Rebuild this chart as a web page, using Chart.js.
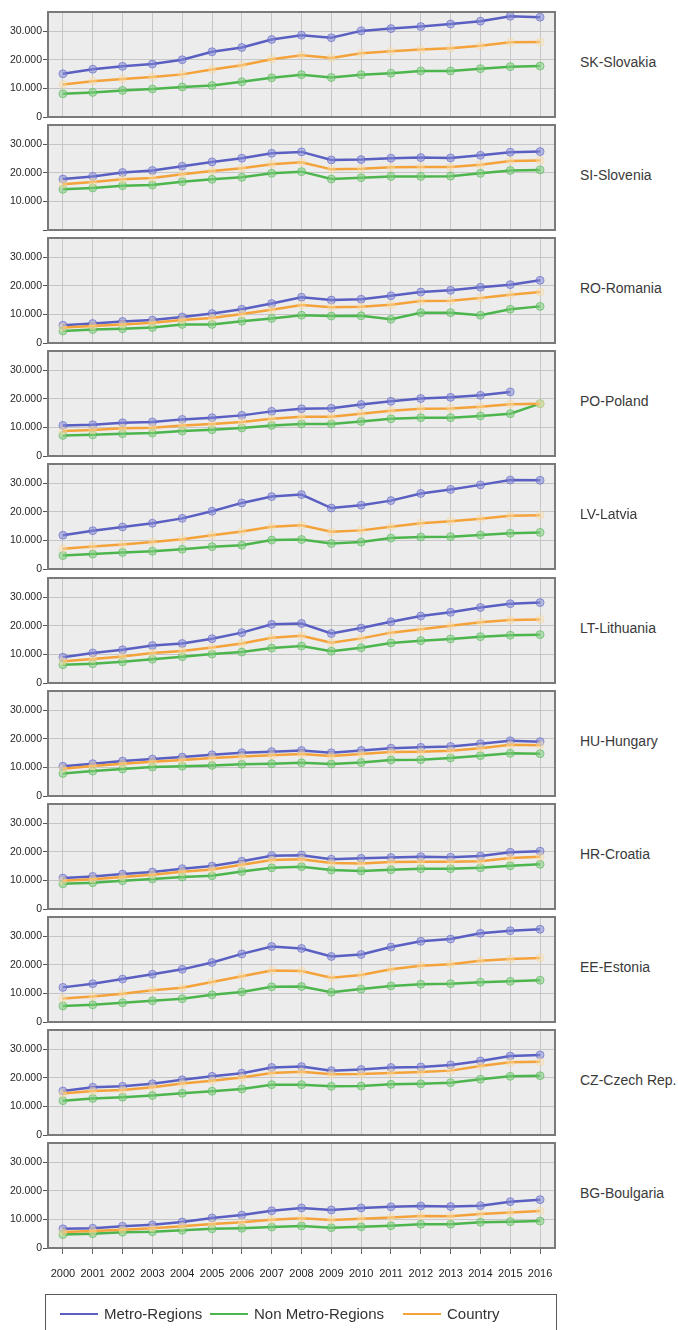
<!DOCTYPE html>
<html>
<head>
<meta charset="utf-8">
<script src="https://cdn.jsdelivr.net/npm/chart.js@4.4.1/dist/chart.umd.min.js"></script>
<style>
  html, body { margin: 0; padding: 0; background: #fff; }
  body { width: 678px; height: 1330px; position: relative; overflow: hidden;
         font-family: "Liberation Sans", Arial, sans-serif; }
  .panel { position: absolute; left: 0; }
  .region { position: absolute; left: 580px; font-size: 14px; color: #3a3a3a; white-space: nowrap; }
  .legend { position: absolute; left: 45px; top: 1294px; width: 512px; height: 60px;
            border: 1.5px solid #5a5a5a; box-sizing: border-box; }
  .item { position: absolute; top: 10px; font-size: 15px; color: #333; white-space: nowrap; }
  .swatch { display: inline-block; width: 38px; height: 0; border-top: 2.5px solid; vertical-align: middle; margin-right: 6px; position: relative; top: -1px; }
</style>
</head>
<body>
<div id="root"></div>
<div class="legend">
  <div class="item" style="left:14px"><span class="swatch" style="border-color:#5a5fc2"></span>Metro-Regions</div>
  <div class="item" style="left:164px"><span class="swatch" style="border-color:#4db54d"></span>Non Metro-Regions</div>
  <div class="item" style="left:357px"><span class="swatch" style="border-color:#f4a23a"></span>Country</div>
</div>
<script>
// GDP per capita by region type, 2000-2016
const years = ['2000','2001','2002','2003','2004','2005','2006','2007','2008','2009','2010','2011','2012','2013','2014','2015','2016'];
const regionNames = ['SK-Slovakia','SI-Slovenia','RO-Romania','PO-Poland','LV-Latvia','LT-Lithuania','HU-Hungary','HR-Croatia','EE-Estonia','CZ-Czech Rep.','BG-Boulgaria'];
const seriesNames = ['Metro-Regions','Non Metro-Regions','Country'];
const yTicks = [0, 10000, 20000, 30000];

const skMetro   = [15100,16700,17700,18500,20000,22800,24300,27100,28600,27700,30100,30900,31600,32500,33500,35200,34900];
const skNon     = [8100,8600,9300,9800,10500,11000,12300,13700,14800,13800,14800,15300,16100,16100,16900,17600,17800];
const skCountry = [11400,12500,13300,14000,14900,16600,18100,20200,21600,20600,22300,23000,23600,24000,24900,26100,26200];

const siMetro   = [17800,18700,20100,20800,22300,23800,25100,26800,27300,24500,24600,25100,25300,25200,26100,27200,27400];
const siNon     = [14200,14700,15500,15700,16900,17700,18400,19800,20400,17800,18300,18700,18700,18800,19800,20800,21000];
const siCountry = [16000,16800,17700,18200,19500,20600,21600,23000,23700,21200,21400,21900,22000,22000,22800,24100,24300];

const roMetro   = [6200,6800,7500,8000,9100,10300,11800,13800,16000,15000,15300,16500,17800,18400,19500,20400,21900];
const roNon     = [4200,4700,5000,5400,6500,6500,7600,8600,9700,9400,9500,8300,10600,10600,9700,11800,12800];
const roCountry = [5400,5900,6500,7100,8000,8700,10100,11600,13300,12500,12700,13400,14700,14800,15700,16900,17800];

const poMetro   = [10700,10900,11600,11900,12800,13400,14200,15600,16500,16700,18000,19100,20100,20500,21200,22400,null];
const poNon     = [7200,7400,7800,8000,8700,9200,9800,10700,11200,11200,12100,13000,13400,13400,14000,14800,18300];
const poCountry = [8700,9100,9700,9900,10700,11200,11900,13000,13700,13700,14800,15800,16500,16600,17200,18100,18300];

const lvMetro   = [11800,13400,14700,16000,17700,20200,23100,25300,26000,21300,22300,23900,26400,27800,29400,31100,31000];
const lvNon     = [4700,5200,5800,6200,6900,7800,8300,10100,10300,8900,9400,10800,11200,11300,11900,12500,12800];
const lvCountry = [7100,7900,8600,9400,10400,11800,13100,14800,15300,13000,13500,14800,16000,16700,17600,18600,18800];

const ltMetro   = [9000,10500,11600,13100,13800,15500,17600,20500,20800,17300,19200,21400,23400,24700,26400,27700,28100];
const ltNon     = [6400,6700,7400,8300,9200,10100,10800,12200,12900,11100,12300,14000,14800,15400,16200,16700,16900];
const ltCountry = [7600,8400,9300,10500,11200,12400,13800,15800,16500,14100,15600,17600,18800,20000,21200,22000,22200];

const huMetro   = [10400,11300,12200,12900,13600,14400,15100,15500,15900,15100,15900,16700,17000,17300,18300,19300,19000];
const huNon     = [7900,8700,9400,10100,10400,10700,11100,11300,11600,11200,11700,12600,12700,13300,14100,14900,14800];
const huCountry = [9500,10500,11300,12000,12600,13300,13800,14200,14700,14000,14700,15400,15500,15800,16700,17900,17700];

const hrMetro   = [10800,11400,12200,12900,14100,15000,16700,18600,18800,17400,17700,18000,18300,18100,18500,19800,20200];
const hrNon     = [8800,9200,9900,10500,11200,11600,13100,14400,14800,13600,13300,13700,14100,14100,14400,15100,15600];
const hrCountry = [9900,10400,11200,12000,13000,13800,15500,17100,17400,16100,15900,16400,16500,16500,16700,17800,18300];

const eeMetro   = [12100,13400,15000,16700,18400,20800,23800,26400,25700,22900,23600,26200,28200,29000,31000,31900,32400];
const eeNon     = [5600,6000,6700,7400,8100,9500,10500,12300,12400,10400,11500,12600,13200,13400,13900,14200,14600];
const eeCountry = [8200,8900,9900,11100,12000,14000,16000,18000,17800,15500,16400,18400,19700,20200,21400,22000,22400];

const czMetro   = [15400,16700,17000,17900,19300,20500,21600,23600,23900,22500,22900,23600,23800,24500,25900,27600,28000];
const czNon     = [12000,12800,13200,13800,14600,15300,16100,17600,17600,17000,17100,17700,17900,18300,19500,20500,20700];
const czCountry = [14500,15400,15700,16700,18000,19000,20100,21700,22100,21200,21300,21700,22000,22500,24100,25400,25600];

const bgMetro   = [6700,6900,7600,8100,9100,10500,11500,13000,14000,13300,14000,14400,14700,14500,14800,16200,16900];
const bgNon     = [4700,5000,5500,5700,6200,6700,6900,7300,7700,7100,7400,7800,8300,8300,9000,9200,9400];
const bgCountry = [5600,5900,6400,6900,7600,8400,9000,9900,10400,9800,10200,10700,11200,11100,11900,12400,12900];

const panels = [
  [skMetro, skNon, skCountry], [siMetro, siNon, siCountry], [roMetro, roNon, roCountry],
  [poMetro, poNon, poCountry], [lvMetro, lvNon, lvCountry], [ltMetro, ltNon, ltCountry],
  [huMetro, huNon, huCountry], [hrMetro, hrNon, hrCountry], [eeMetro, eeNon, eeCountry],
  [czMetro, czNon, czCountry], [bgMetro, bgNon, bgCountry]
];

// line styles: metro, non-metro, country
const styles = [
  { line: '#5a5fc2', fill: 'rgba(135,140,215,0.55)', edge: 'rgba(90,95,194,0.55)' },
  { line: '#4db54d', fill: 'rgba(130,205,130,0.55)', edge: 'rgba(77,181,77,0.55)' },
  { line: '#f4a23a', fill: 'rgba(250,225,170,0.45)', edge: 'rgba(244,200,130,0.25)' }
];

const FONT = '"Liberation Sans", Arial, sans-serif';
const PITCH = 113.1, FIRST_TOP = 12, PLOT_H = 105, PAD_TOP = 10;
const fmt = v => v === 0 ? '0' : (v / 1000).toFixed(3);

const framePlugin = {
  id: 'frame',
  beforeDraw(chart) {
    const a = chart.chartArea, ctx = chart.ctx;
    ctx.save(); ctx.fillStyle = '#ececec';
    ctx.fillRect(a.left, a.top, a.right - a.left, a.bottom - a.top);
    ctx.restore();
  },
  afterDraw(chart) {
    const a = chart.chartArea, ctx = chart.ctx;
    ctx.save(); ctx.strokeStyle = '#7a7a7a'; ctx.lineWidth = 2;
    ctx.strokeRect(a.left, a.top, a.right - a.left, a.bottom - a.top);
    ctx.restore();
  }
};

const root = document.getElementById('root');
panels.forEach((series, i) => {
  const isLast = i === panels.length - 1;
  const top = Math.round(FIRST_TOP + PITCH * i);
  const h = PAD_TOP + PLOT_H + (isLast ? 34 : 10);
  const wrap = document.createElement('div');
  wrap.className = 'panel';
  wrap.style.top = (top - PAD_TOP) + 'px';
  const cv = document.createElement('canvas');
  cv.width = 560; cv.height = h;
  cv.style.width = '560px'; cv.style.height = h + 'px';
  wrap.appendChild(cv);
  root.appendChild(wrap);

  const label = document.createElement('div');
  label.className = 'region';
  label.textContent = regionNames[i];
  label.style.top = (top + PLOT_H / 2 - 11) + 'px';
  root.appendChild(label);

  new Chart(cv, {
    type: 'line',
    data: {
      labels: years,
      datasets: series.map((vals, k) => ({
        label: seriesNames[k],
        data: vals,
        borderColor: styles[k].line,
        borderWidth: 2.5,
        pointRadius: 4,
        pointBackgroundColor: styles[k].fill,
        pointBorderColor: styles[k].edge,
        pointBorderWidth: 1,
        tension: 0,
        spanGaps: false,
        order: 3 - k
      }))
    },
    options: {
      responsive: false,
      animation: false,
      devicePixelRatio: 1,
      layout: { padding: { left: 0, right: 2, top: PAD_TOP, bottom: isLast ? 0 : 10 } },
      plugins: { legend: { display: false }, tooltip: { enabled: false } },
      scales: {
        x: {
          type: 'category',
          offset: true,
          border: { display: false },
          grid: { offset: false, color: '#c6c6c6', lineWidth: 1, drawTicks: isLast, tickLength: 6, tickColor: '#666' },
          ticks: { display: isLast, autoSkip: false, maxRotation: 0, padding: 13, color: '#1e1e1e', font: { family: FONT, size: 11 } },
          afterFit: s => { s.height = isLast ? 34 : 0; s.paddingLeft = 0; s.paddingRight = 0; }
        },
        y: {
          min: 0, max: 36700,
          border: { display: false },
          afterBuildTicks: s => { s.ticks = yTicks.map(v => ({ value: v })); },
          afterFit: s => { s.width = 48; s.paddingTop = 0; s.paddingBottom = 0; },
          grid: { color: '#c6c6c6', lineWidth: 1, tickLength: 5, tickColor: '#555' },
          ticks: {
            padding: 1, color: '#262626', font: { family: FONT, size: 10.5 },
            callback: v => (i === 1 && v === 0) ? '' : fmt(v)
          }
        }
      }
    },
    plugins: [framePlugin]
  });
});
</script>
</body>
</html>
